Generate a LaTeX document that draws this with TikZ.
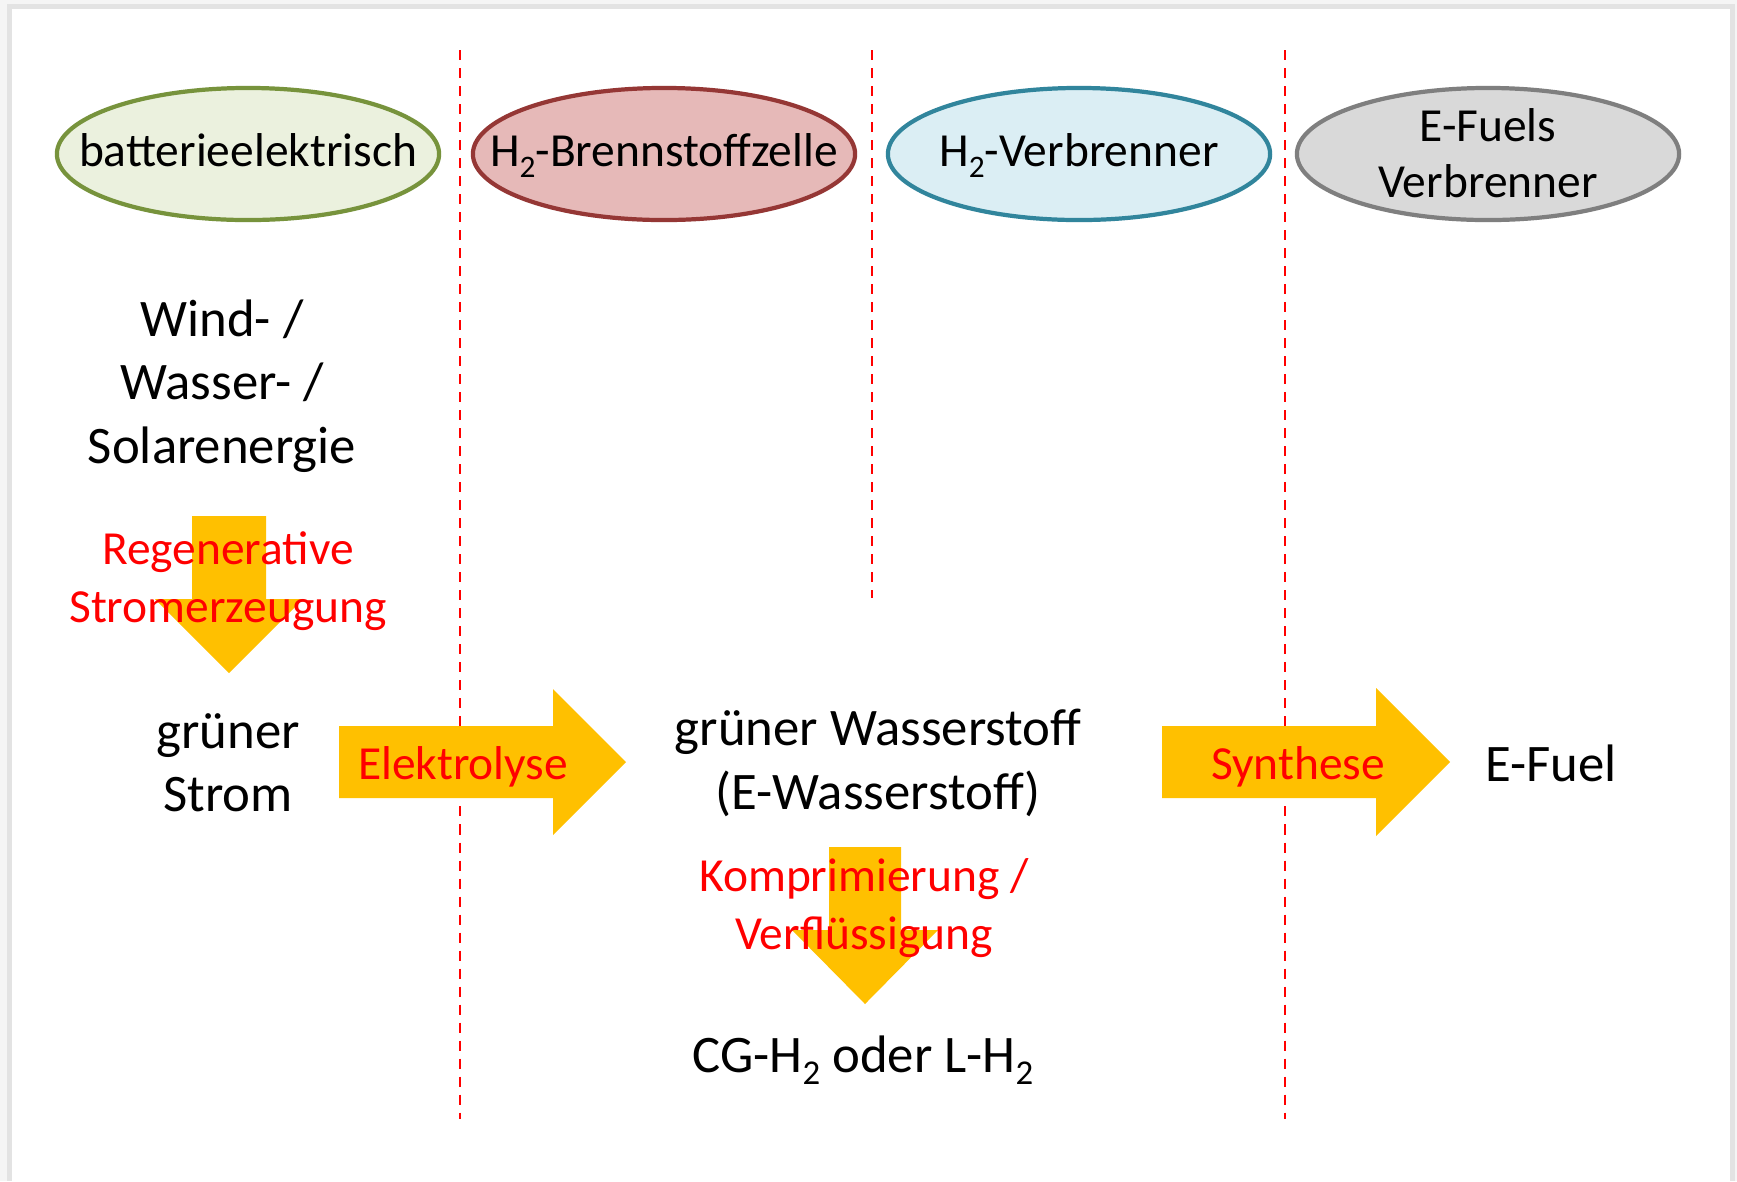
\documentclass[tikz,border=0pt]{standalone}
\usepackage{fontspec}
\setmainfont{Carlito}
\usetikzlibrary{shapes.geometric}

\definecolor{batline}{HTML}{77933C}
\definecolor{batfill}{HTML}{EBF1DE}
\definecolor{fcline}{HTML}{953735}
\definecolor{fcfill}{HTML}{E6B9B8}
\definecolor{iceline}{HTML}{31859C}
\definecolor{icefill}{HTML}{DBEEF4}
\definecolor{efline}{HTML}{7F7F7F}
\definecolor{effill}{HTML}{D9D9D9}
\definecolor{procred}{HTML}{FF0000}
\definecolor{arrowgold}{HTML}{FFC000}

\makeatletter
\newcommand\hsub[1]{\raisebox{-0.24em}{\fontsize{\strip@pt\dimexpr0.66\dimexpr\f@size pt\relax\relax}{0}\selectfont #1}}
\makeatother

\tikzset{
  vehicle/.style={ellipse, draw, line width=1.2pt, minimum width=3.82cm,
    minimum height=1.32cm, inner sep=0pt},
  vehicletext/.style={align=center, inner sep=0pt,
    font=\fontsize{13.5}{15.8}\selectfont},
  stage/.style={align=center, font=\fontsize{15}{18}\selectfont},
  process/.style={align=center, text=procred, font=\fontsize{13.5}{16.3}\selectfont},
  divider/.style={procred, line width=0.75pt, dash pattern=on 0.1cm off 0.08cm},
  blockarrow/.style={fill=arrowgold}
}

\begin{document}
\begin{tikzpicture}[x=0.01cm, y=-0.01cm]
    \useasboundingbox (0,0) rectangle (1737,1181);
    % frame
    \fill[gray!8] (0,0) rectangle (1737,1181);
    \fill[gray!22] (7,4) rectangle (1735,1181);
    \fill[white] (12,9) rectangle (1730,1181);

    % column borders
    \draw[divider] (460,50) -- (460,1119);
    \draw[divider] (872,50) -- (872,598);
    \draw[divider] (1285,50) -- (1285,1119);

    % block arrows
    \fill[blockarrow] (192,516) -- (266,516) -- (266,599) -- (303,599) -- (229,673)
        -- (155,599) -- (192,599) -- cycle;
    \fill[blockarrow] (339,726) -- (553,726) -- (553,689) -- (626,762) -- (553,835)
        -- (553,798) -- (339,798) -- cycle;
    \fill[blockarrow] (829,847) -- (901,847) -- (901,930) -- (938,930) -- (865,1004)
        -- (792,930) -- (829,930) -- cycle;
    \fill[blockarrow] (1162,726) -- (1376,726) -- (1376,688) -- (1450,762) -- (1376,836)
        -- (1376,798) -- (1162,798) -- cycle;

    % drive types
    \node[vehicle, draw=batline, fill=batfill] at (248,154) (bev) {};
    \node[vehicle, draw=fcline, fill=fcfill] at (664,154) (fcev) {};
    \node[vehicle, draw=iceline, fill=icefill] at (1079,154) (h2ice) {};
    \node[vehicle, draw=efline, fill=effill] at (1488,154) (efice) {};
    \node[vehicletext, anchor=base] at (248,166) (bevtext) {batterieelektrisch};
    \node[vehicletext, anchor=base] at (664,166) (fcevtext) {H\hsub{2}-Brennstoffzelle};
    \node[vehicletext, anchor=base] at (1079,166) (h2icetext) {H\hsub{2}-Verbrenner};
    \node[vehicletext] at (1488,153) (eficetext) {E-Fuels\\Verbrenner};

    % energy chain
    \node[stage] at (222,386) (sources) {Wind- /\\Wasser- /\\Solarenergie};
    \node[stage] at (228,763) (power) {grüner\\Strom};
    \node[stage] at (878,763) (hydrogen) {grüner Wasserstoff\\(E-Wasserstoff)};
    \node[stage, anchor=base] at (863,1072) (storage) {CG-H\hsub{2} oder L-H\hsub{2}};
    \node[stage, anchor=base] at (1551,781) (fuel) {E-Fuel};

    % processes
    \node[process] at (228,581) (regen) {Regenerative\\Stromerzeugung};
    \node[process, anchor=base] at (463,779) (elyse) {Elektrolyse};
    \node[process] at (864,908) (compress) {Komprimierung /\\Verflüssigung};
    \node[process, anchor=base] at (1298,779) (synth) {Synthese};
\end{tikzpicture}
\end{document}
